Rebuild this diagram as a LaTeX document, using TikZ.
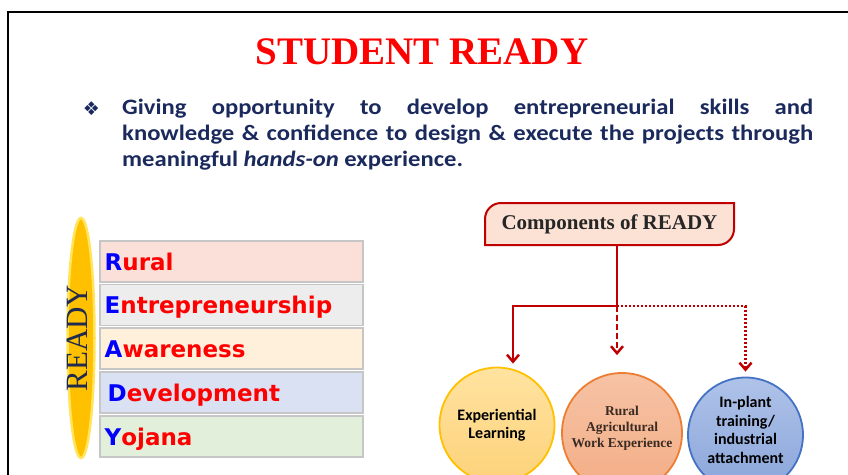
\documentclass[tikz,border=0pt]{standalone}
\usepackage{fontspec}
\setmainfont{Liberation Serif}
\newfontfamily\calib{Carlito}
\newfontfamily\calibw{Carlito}[FakeStretch=1.12]
\newfontfamily\dvs{DejaVu Sans}
\usetikzlibrary{shapes.geometric,arrows.meta}
\definecolor{navy}{HTML}{1B2A5C}
\definecolor{readyblue}{HTML}{1F2A4E}
\definecolor{gold}{HTML}{FFC000}
\definecolor{goldedge}{HTML}{FFE45C}
\definecolor{lblue}{HTML}{0000FF}
\definecolor{lred}{HTML}{FF0000}
\definecolor{rowA}{HTML}{FBE0D9}
\definecolor{rowB}{HTML}{EDEDED}
\definecolor{rowC}{HTML}{FEF0DB}
\definecolor{rowD}{HTML}{DAE1F3}
\definecolor{rowE}{HTML}{E2EFDA}
\definecolor{darkred}{HTML}{C00000}
\definecolor{compfill}{HTML}{FBE2D5}
\definecolor{yTop}{HTML}{FFE3A0}
\definecolor{yBot}{HTML}{FDD27A}
\definecolor{oEdge}{HTML}{ED7D31}
\definecolor{oTop}{HTML}{F6C3A5}
\definecolor{oBot}{HTML}{F3AD85}
\definecolor{bEdge}{HTML}{4472C4}
\definecolor{bTop}{HTML}{AFC3E9}
\definecolor{bBot}{HTML}{8AA5DA}
\definecolor{brownish}{HTML}{3A2A22}
\begin{document}
\begin{tikzpicture}[x=1pt,y=-1pt,
  bodytxt/.style={anchor=base west, inner sep=0pt, text=navy, font=\calibw\bfseries\fontsize{22}{26}\selectfont},
  rowbox/.style={draw=gray!45, line width=1.5pt, minimum width=263pt, minimum height=41pt, inner sep=0pt, anchor=west},
  rowtxt/.style={anchor=base west, inner sep=0pt, text=lred, font=\dvs\bfseries\fontsize{23}{27}\selectfont},
  circ/.style={circle, inner sep=0pt, line width=1.8pt},
  ctxt/.style={align=center, inner sep=0pt, text=black, font=\calib\bfseries\fontsize{16}{18.5}\selectfont},
  conn/.style={draw=darkred, line width=2.5pt},
  tipv/.style={-{Straight Barb[length=7pt,width=12pt]}}
]
\useasboundingbox (0,0) rectangle (848,474);
\clip (0,0) rectangle (848,474);
\draw[line width=2pt] (8,12) rectangle (880,500);

% title
\node[anchor=base, inner sep=0pt, text=lred, font=\bfseries\fontsize{39}{46}\selectfont] (title) at (422,64) {STUDENT READY};

% bullet text
\node[inner sep=0pt, text=navy, font=\dvs\fontsize{19}{21}\selectfont] (bul) at (91.5,108.5) {❖};
\node[bodytxt] (l1) at (122,114) {\makebox[691pt][s]{Giving opportunity to develop entrepreneurial skills and}};
\node[bodytxt] (l2) at (122,140) {\makebox[691pt][s]{knowledge \& confidence to design \& execute the projects through}};
\node[bodytxt] (l3) at (122,166) {meaningful \textit{hands-on} experience.};

% READY ellipse
\node[ellipse, minimum width=27pt, minimum height=240pt, fill=gold, draw=goldedge, line width=2.5pt] (ell) at (81,338) {};
\node[rotate=90, inner sep=0pt, text=readyblue, font=\fontsize{31}{36}\selectfont] (ready) at (77.5,338) {READY};

% rows
\node[rowbox, fill=rowA] (r1) at (99,261.5) {};
\node[rowbox, fill=rowB] (r2) at (99,305) {};
\node[rowbox, fill=rowC] (r3) at (99,348.5) {};
\node[rowbox, fill=rowD] (r4) at (99,392.5) {};
\node[rowbox, fill=rowE] (r5) at (99,436.5) {};
\node[rowtxt] (w1) at ([xshift=5.5pt,yshift=-8.5pt]r1.west) {\textcolor{lblue}{R}ural};
\node[rowtxt] (w2) at ([xshift=5.5pt,yshift=-8.5pt]r2.west) {\textcolor{lblue}{E}ntrepreneurship};
\node[rowtxt] (w3) at ([xshift=5.5pt,yshift=-8.5pt]r3.west) {\textcolor{lblue}{A}wareness};
\node[rowtxt] (w4) at ([xshift=8.5pt,yshift=-8.5pt]r4.west) {\textcolor{lblue}{D}evelopment};
\node[rowtxt] (w5) at ([xshift=5.5pt,yshift=-8.5pt]r5.west) {\textcolor{lblue}{Y}ojana};

% components box
\draw[fill=compfill, draw=darkred, line width=2pt]
  (485,245) -- (485,219) arc[start angle=180,end angle=270,radius=16]
  -- (734,203) -- (734,229) arc[start angle=0,end angle=90,radius=16] -- cycle;
\node[minimum width=249pt, minimum height=42pt, inner sep=0pt, text=black!85, font=\bfseries\fontsize{21}{25}\selectfont] (comp) at (609.5,224) {\raisebox{-3pt}{Components of READY}};

% circles
\node[circ, minimum size=115pt, draw=gold, top color=yTop, bottom color=yBot] (c1) at (497,425) {};
\node[circ, minimum size=120pt, draw=oEdge, top color=oTop, bottom color=oBot] (c2) at (622,433) {};
\node[circ, minimum size=115pt, draw=bEdge, top color=bTop, bottom color=bBot] (c3) at (745.5,435) {};
\node[ctxt] (t1) at (497,425) {Experiential\\Learning};
\node[align=center, inner sep=0pt, text=brownish, font=\bfseries\fontsize{13.5}{16}\selectfont] (t2) at (622,428) {Rural\\Agricultural\\Work Experience};
\node[ctxt] (t3) at (745.5,430) {In-plant\\training/\\industrial\\attachment};

% connectors
\coordinate (j) at (617,306);
\coordinate (a1) at ([xshift=16pt,yshift=3pt]c1.north);
\coordinate (a2) at ([yshift=17pt]c2.north);
\coordinate (a3) at ([yshift=5pt]c3.north);
\draw[conn, tipv] (comp.south -| j) -- (j) -| (a1);
\draw[conn, tipv, dash pattern=on 6pt off 3pt] (j) -- (j |- a2);
\draw[conn, tipv, dash pattern=on 2pt off 2pt] (j) -| (a3);
\end{tikzpicture}
\end{document}
